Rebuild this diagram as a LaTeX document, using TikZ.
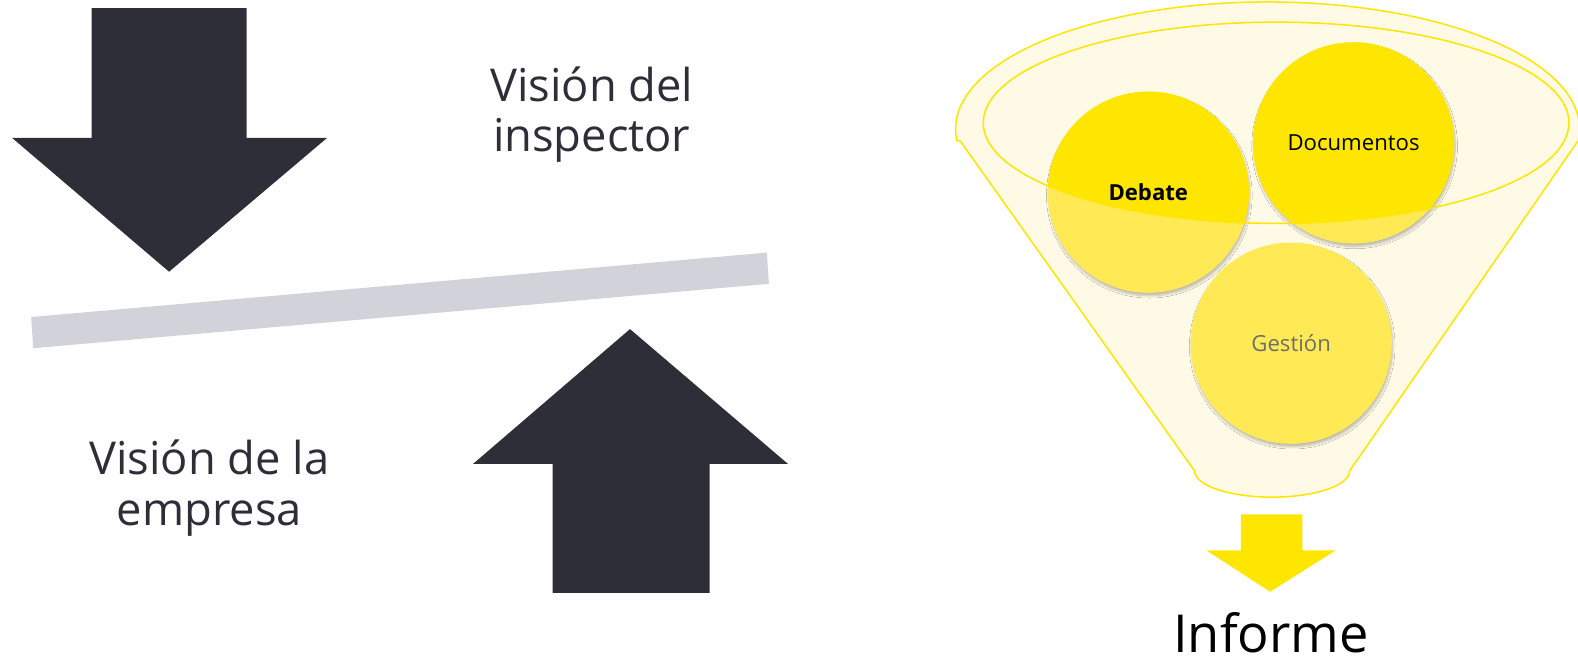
\documentclass[tikz,border=0pt]{standalone}
\usepackage{fontspec}
\setmainfont{Open Sans}
\usetikzlibrary{shadows.blur}
\definecolor{eydark}{HTML}{2E2E38}
\definecolor{eybar}{HTML}{D2D2DA}
\definecolor{eyyel}{HTML}{FFE600}
\definecolor{eylight}{HTML}{FFEA55}
\definecolor{eycream}{HTML}{FFFAE6}
\definecolor{eygray}{HTML}{6D6D6D}
\tikzset{
  darkarrow/.style={fill=eydark},
  bigtext/.style={text=eydark, align=center, font=\fontsize{45}{50}\selectfont},
  bub/.style={circle, minimum size=200pt, inner sep=0pt, fill=eylight,
    blur shadow={shadow xshift=1pt, shadow yshift=-3pt, shadow blur steps=6, shadow opacity=25}},
  bubtext/.style={font=\fontsize{22}{26}\selectfont},
  funnelline/.style={draw=eyyel, line width=1.5pt},
}
\begin{document}
\begin{tikzpicture}[x=1pt,y=-1pt]
\useasboundingbox (0,0) rectangle (1568,659);
% dark arrows
\fill[darkarrow] (91,8) -- (245,8) -- (245,137) -- (325,137) -- (168,270) -- (12,137) -- (91,137) -- cycle;
\fill[darkarrow] (626,327) -- (783,461) -- (705,461) -- (705,589) -- (549,589) -- (549,461) -- (470,461) -- cycle;
% bar
\fill[eybar] (31,315) -- (762,251) -- (764,282) -- (33,346) -- cycle;
% texts
\node[bigtext] (insp) at (588,114) {Visión del\\inspector};
\node[bigtext] (emp) at (208,485) {Visión de la\\empresa};
% funnel
\path[funnelline, fill=eycream] (954,140) -- (1187,468)
  arc[start angle=180, end angle=0, x radius=77, y radius=26]
  -- (1568,140) arc[start angle=5.5, end angle=-185.5, x radius=310, y radius=126] -- cycle;
% circles
\node[bub] (deb) at (1141,191) {};
\node[bub] (doc) at (1345,142) {};
\node[bub] (ges) at (1283,341) {};
\begin{scope}
  \clip (1268,122) ellipse [x radius=291, y radius=100];
  \fill[eyyel] (deb.center) circle[radius=100];
  \fill[eyyel] (doc.center) circle[radius=100];
\end{scope}
\draw[funnelline] (1268,122) ellipse [x radius=291, y radius=100];
\node[bubtext, font=\fontsize{22}{26}\selectfont\bfseries] (debt) at (deb.center) {Debate};
\node[bubtext] (doct) at (doc.center) {Documentos};
\node[bubtext, text=eygray] (gest) at (ges.center) {Gestión};
% yellow arrow
\fill[eyyel] (1233,511) -- (1294,511) -- (1294,547) -- (1327,547) -- (1262,588) -- (1199,547) -- (1233,547) -- cycle;
\node[anchor=base, inner sep=0pt, font=\fontsize{52}{56}\selectfont] (inf) at (1263,648) {Informe};
\end{tikzpicture}
\end{document}
